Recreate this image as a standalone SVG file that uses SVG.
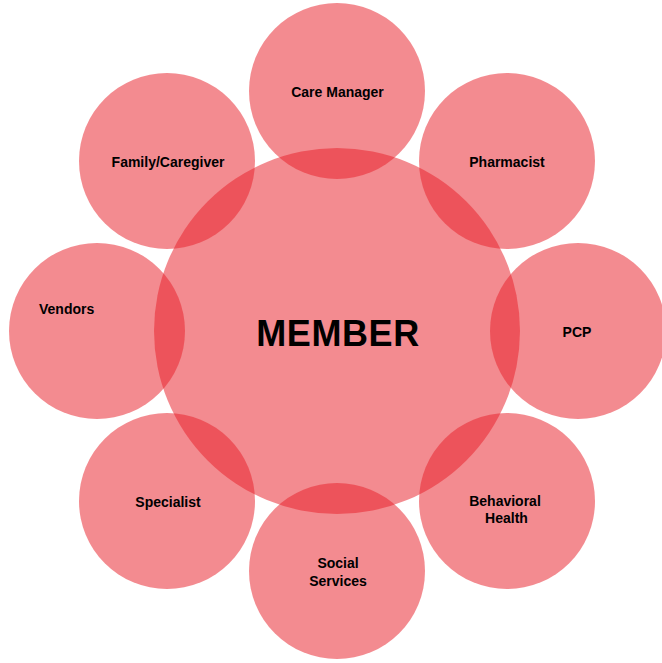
<svg xmlns="http://www.w3.org/2000/svg" width="662" height="663" viewBox="0 0 662 663">
  <style>
    .bubble { fill: #E8202A; fill-opacity: 0.52; }
    .label { font-family: "Liberation Sans", Arial, Helvetica, sans-serif; font-weight: bold; font-size: 14px; fill: #000; text-anchor: middle; }
    .hub { font-size: 36px; letter-spacing: 0.6px; }
  </style>
  <rect width="662" height="663" fill="#ffffff"/>

  <g id="member">
    <circle class="bubble" cx="337" cy="331" r="183"/>
    <text class="label hub" x="338" y="346">MEMBER</text>
  </g>

  <g id="care-manager">
    <circle class="bubble" cx="337" cy="91" r="88"/>
    <text class="label" x="337.5" y="97">Care Manager</text>
  </g>

  <g id="pharmacist">
    <circle class="bubble" cx="507" cy="161" r="88"/>
    <text class="label" x="507" y="167">Pharmacist</text>
  </g>

  <g id="pcp">
    <circle class="bubble" cx="578" cy="331" r="88"/>
    <text class="label" x="577" y="337">PCP</text>
  </g>

  <g id="behavioral-health">
    <circle class="bubble" cx="507" cy="501" r="88"/>
    <text class="label" x="505" y="506">Behavioral</text>
    <text class="label" x="506.5" y="523">Health</text>
  </g>

  <g id="social-services">
    <circle class="bubble" cx="337" cy="571" r="88"/>
    <text class="label" x="338" y="568">Social</text>
    <text class="label" x="338" y="586">Services</text>
  </g>

  <g id="specialist">
    <circle class="bubble" cx="167" cy="501" r="88"/>
    <text class="label" x="168" y="507">Specialist</text>
  </g>

  <g id="vendors">
    <circle class="bubble" cx="97" cy="331" r="88"/>
    <text class="label" x="39" y="314" style="text-anchor:start">Vendors</text>
  </g>

  <g id="family-caregiver">
    <circle class="bubble" cx="167" cy="161" r="88"/>
    <text class="label" x="168" y="167">Family/Caregiver</text>
  </g>

  <g id="connectors"></g>
</svg>
